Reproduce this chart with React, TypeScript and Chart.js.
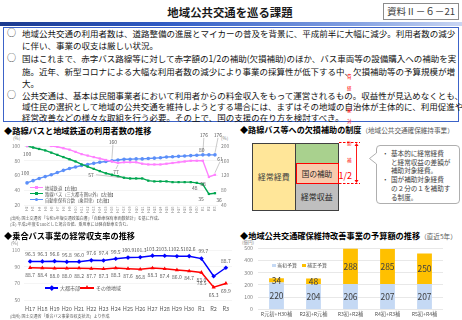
import React, { useEffect, useRef } from "react";
import { Chart, registerables } from "chart.js";
Chart.register(...registerables);

const CJK = '"Noto Sans CJK JP", "Noto Sans", sans-serif';

// ---------- Chart 1: 路線バスと地域鉄道の利用者数の推移 ----------
const usageYears = [
  "H2","H3","H4","H5","H6","H7","H8","H9","H10","H11","H12","H13","H14","H15","H16","H17",
  "H18","H19","H20","H21","H22","H23","H24","H25","H26","H27","H28","H29","H30","R1","R2","R3",
];
const railIndex = [100,102,102,102,100,99,97,95,92,89,87,85,83,81,79,77,78,78,78,76,75,75,75,76,77,78,79,80,80,80,58,61];
const busIndex = [100,98,96,94,91,88,85,82,79,75,72,69,66,63,61,59,57,56,56,56,53,52,52,52,51,51,51,51,50,48,35,36];
const carIndex = [100,106,112,117,122,128,134,139,143,147,150,153,156,158,160,162,164,164,165,165,166,167,168,170,171,172,173,174,175,176,176,176];
const leftAxisTicks = [20, 40, 60, 80, 100];
const rightAxisTicks = [40, 80, 120, 160, 200];

// ---------- Chart 2: 乗合バス事業の経常収支率の推移 ----------
const ratioYears = ["H17","H18","H19","H20","H21","H22","H23","H24","H25","H26","H27","H28","H29","H30","R1","R2","R3"];
const urbanRatio = [96.3,96.3,96.6,95.8,96.0,97.6,97.4,99.5,100.9,101.3,103.2,103.1,102.5,102.6,99.7,78.5,88.7];
const otherRatio = [88.7,88.4,88.0,88.0,88.2,87.7,87.3,88.3,87.6,86.8,88.3,87.4,86.0,84.7,83.0,65.3,69.9];
const ratioTicks = [50, 60, 70, 80, 90, 100, 110];

// ---------- Chart 3: 予算額の推移 ----------
const budgetPeriods = ["R元初+H30補","R2初+R元補","R3初+R2補","R4初+R3補","R5初+R4補"];
const initialBudget = [220, 204, 206, 207, 207];
const supplementaryBudget = [34, 48, 288, 285, 250];
const budgetTicks = [0, 100, 200, 300, 400, 500];

// label annotations (style offsets only)
const usageNotes = [
  { ds: 2, i: 0, dx: -2, dy: -10 },
  { ds: 1, i: 0, dx: 0, dy: 8 },
  { ds: 2, i: 14, dx: 1, dy: -19, leader: true },
  { ds: 0, i: 15, dx: -2, dy: 9, leader: true },
  { ds: 1, i: 16, dx: -33, dy: -3, leader: true, side: true },
  { ds: 2, i: 29, dx: 1, dy: -20, leader: true },
  { ds: 2, i: 31, dx: 3, dy: -20, leader: true },
  { ds: 0, i: 29, dx: -1, dy: -11 },
  { ds: 0, i: 30, dx: -6, dy: 7 },
  { ds: 0, i: 31, dx: 5, dy: -16, leader: true },
  { ds: 1, i: 29, dx: -8, dy: 4 },
  { ds: 1, i: 30, dx: -8, dy: 5 },
  { ds: 1, i: 31, dx: 4, dy: 7 },
];

const GRAY = "#7f7f7f";

function noteLabelPlugin(notes: any[]) {
  return {
    id: "noteLabels",
    afterDatasetsDraw(chart: any) {
      const ctx = chart.ctx;
      ctx.save();
      ctx.font = `5px ${CJK}`;
      ctx.fillStyle = "#595959";
      ctx.textAlign = "center";
      ctx.textBaseline = "middle";
      notes.forEach((n) => {
        const el = chart.getDatasetMeta(n.ds).data[n.i];
        if (!el) return;
        const v = chart.data.datasets[n.ds].data[n.i];
        const x = el.x + n.dx;
        const y = el.y + n.dy;
        if (n.leader) {
          ctx.strokeStyle = "#a6a6a6";
          ctx.lineWidth = 0.6;
          ctx.beginPath();
          if (n.side) {
            ctx.moveTo(x + 5, y);
            ctx.lineTo(el.x - 2, el.y);
          } else {
            ctx.moveTo(x, y + (n.dy < 0 ? 3 : -3));
            ctx.lineTo(el.x, el.y + (n.dy < 0 ? -2 : 2));
          }
          ctx.stroke();
        }
        ctx.fillText(String(v), x, y);
      });
      ctx.restore();
    },
  };
}

function ratioLabelPlugin() {
  return {
    id: "ratioLabels",
    afterDatasetsDraw(chart: any) {
      const ctx = chart.ctx;
      ctx.save();
      ctx.font = `5px ${CJK}`;
      ctx.fillStyle = "#595959";
      ctx.textAlign = "center";
      ctx.textBaseline = "middle";
      chart.data.datasets.forEach((ds: any, d: number) => {
        chart.getDatasetMeta(d).data.forEach((el: any, i: number) => {
          const v = ds.data[i];
          let dx = 0;
          let dy = d === 0 ? -7 : 7.5;
          if (d === 0 && i === 15) { dx = -12; dy = 7; }
          if (d === 0 && i === 14) { dx = 2; dy = -7; }
          ctx.fillText(v.toFixed(1), el.x + dx, el.y + dy);
        });
      });
      ctx.restore();
    },
  };
}

function barLabelPlugin() {
  return {
    id: "barLabels",
    afterDatasetsDraw(chart: any) {
      const ctx = chart.ctx;
      ctx.save();
      ctx.font = `8.5px ${CJK}`;
      ctx.fillStyle = "#404040";
      ctx.textAlign = "center";
      ctx.textBaseline = "middle";
      chart.data.datasets.forEach((ds: any, d: number) => {
        chart.getDatasetMeta(d).data.forEach((el: any, i: number) => {
          ctx.fillText(String(ds.data[i]), el.x, (el.y + el.base) / 2 + 0.5);
        });
      });
      ctx.restore();
    },
  };
}

function ChartBox(props: { left: number; top: number; width: number; height: number; make: () => any }) {
  const ref = useRef<HTMLCanvasElement>(null);
  useEffect(() => {
    const chart = new Chart(ref.current as HTMLCanvasElement, props.make());
    return () => chart.destroy();
  }, []);
  return (
    <div style={{ position: "absolute", left: props.left, top: props.top, width: props.width, height: props.height }}>
      <canvas ref={ref} width={props.width} height={props.height} style={{ width: props.width, height: props.height, display: "block" }} />
    </div>
  );
}

function usageConfig() {
  const ds = (label: string, data: number[], color: string, axis: string, style: string, r: number) => ({
    label, data, borderColor: color, backgroundColor: color, yAxisID: axis,
    pointStyle: style, pointRadius: r, pointBorderWidth: 0, borderWidth: 1.4, tension: 0,
  });
  return {
    type: "line",
    data: {
      labels: usageYears,
      datasets: [
        ds("地域鉄道【左軸】", railIndex, "#ff80ff", "yL", "rect", 1.6),
        ds("路線バス（三大都市圏以外）【左軸】", busIndex, "#00a650", "yL", "rect", 1.6),
        ds("自動車保有台数（乗用車）【右軸】", carIndex, "#5b8ff9", "yR", "circle", 1.8),
      ],
    },
    options: {
      responsive: false, animation: false,
      layout: { padding: { top: 13, bottom: 0, left: 0, right: 0 } },
      plugins: { legend: { display: false }, tooltip: { enabled: false } },
      scales: {
        x: {
          offset: true,
          grid: { display: false, drawTicks: false },
          border: { display: false },
          ticks: { font: { size: 3.6, family: CJK }, color: "#8c8c8c", minRotation: 90, maxRotation: 90, autoSkip: false, padding: 1.5 },
          afterFit(s: any) { s.height = 12; },
        },
        yL: {
          position: "left", min: 20, max: 100,
          afterBuildTicks(s: any) { s.ticks = leftAxisTicks.map((v) => ({ value: v })); },
          ticks: { font: { size: 5, family: CJK }, color: GRAY, padding: 4 },
          grid: { color: "#ececec", lineWidth: 0.6, drawTicks: false },
          border: { display: false },
          afterFit(s: any) { s.width = 24; },
        },
        yR: {
          position: "right", min: 40, max: 200,
          afterBuildTicks(s: any) { s.ticks = rightAxisTicks.map((v) => ({ value: v })); },
          ticks: { font: { size: 5, family: CJK }, color: GRAY, padding: 3 },
          grid: { display: false, drawTicks: false },
          border: { display: false },
          afterFit(s: any) { s.width = 14; },
        },
      },
    },
    plugins: [noteLabelPlugin(usageNotes)],
  };
}

function ratioConfig() {
  return {
    type: "line",
    data: {
      labels: ratioYears,
      datasets: [
        { label: "大都市部", data: urbanRatio, borderColor: "#0000ff", backgroundColor: "#0000ff", pointStyle: "rectRot", pointRadius: 2.3, borderWidth: 1.5, pointBorderWidth: 0 },
        { label: "その他地域", data: otherRatio, borderColor: "#ff0000", backgroundColor: "#ff0000", pointStyle: "triangle", pointRadius: 2.4, borderWidth: 1.5, pointBorderWidth: 0 },
      ],
    },
    options: {
      responsive: false, animation: false,
      layout: { padding: { top: 10, bottom: 0, left: 0, right: 3 } },
      plugins: { legend: { display: false }, tooltip: { enabled: false } },
      scales: {
        x: {
          offset: true,
          grid: { display: false, drawTicks: false },
          border: { display: false },
          ticks: { font: { size: 5.6, family: CJK }, color: "#595959", autoSkip: false, maxRotation: 0, padding: 5.5 },
          afterFit(s: any) { s.height = 16; },
        },
        y: {
          min: 50, max: 110,
          afterBuildTicks(s: any) { s.ticks = ratioTicks.map((v) => ({ value: v })); },
          ticks: { font: { size: 5, family: CJK }, color: GRAY, padding: 4 },
          grid: { color: "#efefef", lineWidth: 0.6, drawTicks: false },
          border: { display: false },
          afterFit(s: any) { s.width = 24; },
        },
      },
    },
    plugins: [ratioLabelPlugin()],
  };
}

function budgetConfig() {
  return {
    type: "bar",
    data: {
      labels: budgetPeriods,
      datasets: [
        { label: "当初予算", data: initialBudget, backgroundColor: "#c5d9f4", stack: "s" },
        { label: "補正予算", data: supplementaryBudget, backgroundColor: "#ffc000", stack: "s" },
      ],
    },
    options: {
      responsive: false, animation: false,
      layout: { padding: { top: 7, bottom: 0, left: 0, right: 19 } },
      datasets: { bar: { categoryPercentage: 0.8, barPercentage: 0.5 } },
      plugins: { legend: { display: false }, tooltip: { enabled: false } },
      scales: {
        x: {
          stacked: true,
          grid: { display: false, drawTicks: false },
          border: { display: false },
          ticks: { font: { size: 5.2, family: CJK }, color: "#595959", autoSkip: false, maxRotation: 0, padding: 2 },
          afterFit(s: any) { s.height = 10.7; },
        },
        y: {
          stacked: true, min: 0, max: 500,
          afterBuildTicks(s: any) { s.ticks = budgetTicks.map((v) => ({ value: v })); },
          ticks: { font: { size: 5.2, family: CJK }, color: GRAY, padding: 5 },
          grid: { color: "#d9d9d9", lineWidth: 0.6, drawTicks: false },
          border: { display: false },
          afterFit(s: any) { s.width = 18; },
        },
      },
    },
    plugins: [barLabelPlugin()],
  };
}

const abs = (left: number, top: number, extra: any = {}) => ({ position: "absolute" as const, left, top, ...extra });

const paragraphs = [
  ["地域公共交通の利用者数は、道路整備の進展とマイカーの普及を背景に、平成前半に大幅に減少。利用者数の減少", "に伴い、事業の収支は厳しい状況。"],
  ["国はこれまで、赤字バス路線等に対して赤字額の1/2の補助(欠損補助)のほか、バス車両等の設備購入への補助を実", "施。近年、新型コロナによる大幅な利用者数の減少により事業の採算性が低下する中、欠損補助等の予算規模が増", "大。"],
  ["公共交通は、基本は民間事業者において利用者からの料金収入をもって運営されるもの。収益性が見込めなくとも、地", "域住民の選択として地域の公共交通を維持しようとする場合には、まずはその地域の自治体が主体的に、利用促進や", "経営改善などの様々な取組を行う必要。その上で、国の支援の在り方を検討すべき。"],
];
const lineY = [[33, 45], [58, 70.5, 82.5], [95, 106, 117]];

const redVertical = [
  { ch: "費", y: 76 }, { ch: "経", y: 88 }, { ch: "象", y: 110 }, { ch: "対", y: 121 }, { ch: "助", y: 143 }, { ch: "補", y: 160 },
];

export default function App() {
  return (
    <div style={{ position: "absolute", left: 0, top: 0, width: 462, height: 320, overflow: "hidden", background: "#fff", fontFamily: CJK, color: "#000" }}>
      {/* title */}
      <div style={abs(130, 3, { width: 200, textAlign: "center", fontSize: 11.4, fontWeight: 700, lineHeight: "18px", color: "#1a1a1a" })}>地域公共交通を巡る課題</div>
      <div style={abs(383, 3, { width: 76, height: 17, boxSizing: "border-box", border: "1px solid #8c8c8c", fontSize: 9.6, lineHeight: "15px", color: "#404040", textAlign: "center", whiteSpace: "nowrap" })}>資料Ⅱ－６－21</div>
      <div style={abs(0, 21.5, { width: 462, height: 4, background: "linear-gradient(90deg, #1b3a8e 0%, #2f5bc4 35%, #7f9de0 75%, #c9d6f3 100%)" })} />

      {/* text box */}
      <div style={abs(3, 27, { width: 456, height: 95, boxSizing: "border-box", border: "1.3px solid #3c63c8", background: "#fff" })} />
      {paragraphs.map((p, pi) => (
        <React.Fragment key={pi}>
          <div style={abs(7, lineY[pi][0] - 6, { fontSize: 9, lineHeight: "12px", color: "#333" })}>○</div>
          {p.map((line, li) => {
            const last = li === p.length - 1 && line.length < 50;
            return (
              <div key={li} style={abs(22, lineY[pi][li] - 6, { width: last ? undefined : 433, fontSize: 8.5, lineHeight: "12px", whiteSpace: "nowrap", textAlign: last ? "left" : "justify", textAlignLast: last ? "auto" : "justify", color: "#111" })}>{line}</div>
            );
          })}
        </React.Fragment>
      ))}
      {redVertical.map((r, i) => (
        <div key={i} style={abs(347, r.y - 3, { fontSize: 4.5, lineHeight: "6px", color: "#ff0000" })}>{r.ch}</div>
      ))}

      {/* chart 1 */}
      <div style={abs(4, 124, { fontSize: 8.2, fontWeight: 700, lineHeight: "12px", whiteSpace: "nowrap" })}>◆路線バスと地域鉄道の利用者数の推移</div>
      <div style={abs(13, 135, { fontSize: 4.5, color: GRAY })}>(%)</div>
      <div style={abs(221, 135, { fontSize: 4.5, color: GRAY })}>(%)</div>
      <ChartBox left={0} top={133} width={232} height={84} make={usageConfig} />
      {[
        { c: "#ff80ff", t: "地域鉄道【左軸】", y: 187.5, s: "rect" },
        { c: "#00a650", t: "路線バス（三大都市圏以外）【左軸】", y: 193.5, s: "rect" },
        { c: "#5b8ff9", t: "自動車保有台数（乗用車）【右軸】", y: 199.5, s: "circle" },
      ].map((l, i) => (
        <React.Fragment key={i}>
          <div style={abs(30, l.y - 0.7, { width: 13, height: 1.4, background: l.c })} />
          <div style={abs(35, l.y - 1.6, { width: 3.2, height: 3.2, background: l.c, borderRadius: l.s === "circle" ? "50%" : 0 })} />
          <div style={abs(45, l.y - 3, { fontSize: 4.3, lineHeight: "6px", color: "#595959", whiteSpace: "nowrap" })}>{l.t}</div>
        </React.Fragment>
      ))}
      <div style={abs(10, 216, { fontSize: 4, lineHeight: "5.5px", color: "#595959", whiteSpace: "nowrap" })}>
        (出所) 国土交通省「令和5年版交通政策白書」「自動車保有車両数統計」を基に作成。<br />
        (注) 平成2年度を100とした場合の値。乗用車には軽自動車を含む。
      </div>

      {/* diagram */}
      <div style={abs(240, 124, { fontSize: 8.1, fontWeight: 700, lineHeight: "12px", whiteSpace: "nowrap" })}>◆路線バス等への欠損補助の制度<span style={{ fontSize: 6.6, fontWeight: 400, color: "#595959" }}>（地域公共交通確保維持事業）</span></div>
      <div style={abs(251.5, 142.5, { width: 44.5, height: 68, boxSizing: "border-box", background: "#ffe699", border: "1.3px solid #404040", display: "flex", alignItems: "center", justifyContent: "center", fontSize: 8, color: "#404040" })}>経常経費</div>
      <div style={abs(295, 142.5, { width: 43.5, height: 21, boxSizing: "border-box", background: "#a9d18e", border: "1.3px solid #404040" })} />
      <div style={abs(295, 183, { width: 43.5, height: 27.5, boxSizing: "border-box", background: "#bfbfbf", border: "1.3px solid #404040", display: "flex", alignItems: "center", justifyContent: "center", fontSize: 8, color: "#262626" })}>経常収益</div>
      <div style={abs(295.5, 162.5, { width: 43, height: 21, boxSizing: "border-box", background: "#f8cbad", border: "1.6px solid #ff0000", display: "flex", alignItems: "center", justifyContent: "center", fontSize: 7.6, color: "#262626" })}>国の補助</div>
      <svg style={abs(336, 138, { width: 30, height: 50, overflow: "visible" })} width={30} height={50}>
        <line x1={3} y1={4.5} x2={24} y2={4.5} stroke="#ff0000" strokeWidth={1} strokeDasharray="2.5 1.5" />
        <line x1={3} y1={45.5} x2={24} y2={45.5} stroke="#ff0000" strokeWidth={1} strokeDasharray="2.5 1.5" />
        <line x1={20.5} y1={7} x2={20.5} y2={43} stroke="#ff0000" strokeWidth={0.9} />
        <path d="M18.5,8 L20.5,5 L22.5,8 Z" fill="#ff0000" />
        <path d="M18.5,42 L20.5,45 L22.5,42 Z" fill="#ff0000" />
      </svg>
      <div style={abs(338.5, 170, { fontSize: 9, lineHeight: "12px", color: "#ff0000" })}>1/2</div>
      <svg style={abs(367, 143, { width: 95, height: 63, overflow: "visible" })} width={95} height={63}>
        <path d="M13,2.5 H89 Q92.5,2.5 92.5,6 V57 Q92.5,60.5 89,60.5 H13 Q9.5,60.5 9.5,57 V21 L2.5,15.5 L9.5,10 V6 Q9.5,2.5 13,2.5 Z" fill="#fff" stroke="#a6a6a6" strokeWidth={0.9} />
      </svg>
      <div style={abs(382, 149, { width: 74, fontSize: 6.6, lineHeight: "8.7px", color: "#404040" })}>
        {[
          ["・", "基本的に経常経費"], ["", "と経常収益の差額が"], ["", "補助対象経費。"],
          ["・", "国が補助対象経費"], ["", "の２分の１を補助す"], ["", "る制度。"],
        ].map((r, i) => (
          <div key={i} style={{ display: "flex", whiteSpace: "nowrap" }}>
            <span style={{ width: 9, flex: "none" }}>{r[0]}</span>
            <span>{r[1]}</span>
          </div>
        ))}
      </div>

      {/* chart 2 */}
      <div style={abs(4, 229, { fontSize: 8.2, fontWeight: 700, lineHeight: "12px", whiteSpace: "nowrap" })}>◆乗合バス事業の経常収支率の推移</div>
      <div style={abs(11, 240, { fontSize: 4.5, color: GRAY })}>(%)</div>
      <ChartBox left={0} top={240} width={236} height={76} make={ratioConfig} />
      <div style={abs(45, 287.3, { width: 13, height: 1.4, background: "#0000ff" })} />
      <div style={abs(49.5, 286, { width: 3.6, height: 3.6, background: "#0000ff", transform: "rotate(45deg)" })} />
      <div style={abs(60, 285, { fontSize: 5, lineHeight: "6px", color: "#595959" })}>大都市部</div>
      <div style={abs(80, 287.3, { width: 14, height: 1.4, background: "#ff0000" })} />
      <div style={abs(84.5, 285, { width: 0, height: 0, borderLeft: "2.3px solid transparent", borderRight: "2.3px solid transparent", borderBottom: "4px solid #ff0000" })} />
      <div style={abs(96, 285, { fontSize: 5, lineHeight: "6px", color: "#595959" })}>その他地域</div>
      <div style={abs(10, 313, { fontSize: 4, lineHeight: "6px", color: "#595959", whiteSpace: "nowrap" })}>(出所) 国土交通省「乗合バス事業の収支状況」より作成</div>

      {/* chart 3 */}
      <div style={abs(240, 229, { fontSize: 8.2, fontWeight: 700, lineHeight: "12px", whiteSpace: "nowrap" })}>◆地域公共交通確保維持改善事業の予算額の推移<span style={{ fontSize: 6.6, fontWeight: 400, color: "#595959" }}>（直近5年）</span></div>
      <div style={abs(242, 239, { fontSize: 4.5, color: GRAY })}>(億円)</div>
      <ChartBox left={240} top={240} width={222} height={80} make={budgetConfig} />
      <div style={abs(272, 263.5, { width: 3.5, height: 3.5, background: "#c5d9f4" })} />
      <div style={abs(277, 262, { fontSize: 5, lineHeight: "6px", color: "#595959" })}>当初予算</div>
      <div style={abs(302, 263.5, { width: 3.5, height: 3.5, background: "#ffc000" })} />
      <div style={abs(307, 262, { fontSize: 5, lineHeight: "6px", color: "#595959" })}>補正予算</div>
    </div>
  );
}
